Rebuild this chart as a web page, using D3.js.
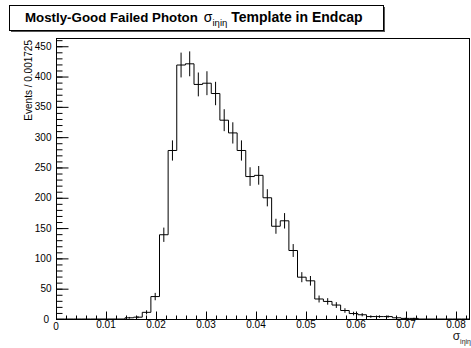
<!DOCTYPE html>
<html>
<head>
<meta charset="utf-8">
<script src="https://cdn.jsdelivr.net/npm/d3@7"></script>
<style>
  html, body { margin: 0; padding: 0; background: #fff; }
  svg { display: block; font-family: "Liberation Sans", Arial, Helvetica, sans-serif; }
</style>
</head>
<body>
<div id="chart"></div>
<script>
// Histogramm: sigma_ieta_ieta, 48 Bins zu je 0.001725
const binWidth = 0.001725;
const binCounts = [
    0, 0, 0, 0, 0, 0, 0, 0, 2, 3,
    11, 37, 139, 278, 419, 421, 387, 389, 372, 328,
    307, 278, 235, 237, 200, 153, 162, 113, 69, 63,
    33, 29, 23, 14, 9, 7, 4, 4, 4, 2,
    1, 1, 0, 0, 0, 0, 0, 0
];
const xTicks = [0, 0.01, 0.02, 0.03, 0.04, 0.05, 0.06, 0.07, 0.08];
const yTicks = [0, 50, 100, 150, 200, 250, 300, 350, 400, 450];

const width = 471, height = 348;
const frame = { left: 56, right: 470, top: 38, bottom: 319 };

const svg = d3.select("#chart").append("svg")
    .attr("width", width)
    .attr("height", height);

const xMax = binWidth * binCounts.length;
const peak = d3.max(binCounts);
const yMax = (peak + Math.sqrt(peak)) * 1.05;

const x = d3.scaleLinear().domain([0, xMax]).range([frame.left, frame.right]);
const y = d3.scaleLinear().domain([0, yMax]).range([frame.bottom, frame.top]);

// Rahmen
svg.append("rect")
    .attr("x", frame.left + 0.5)
    .attr("y", frame.top + 0.5)
    .attr("width", frame.right - frame.left - 1)
    .attr("height", frame.bottom - frame.top)
    .attr("fill", "none")
    .attr("stroke", "#000");

// X-Achse: Haupt- und Nebenstriche nach innen
const xAxis = d3.axisTop(x)
    .tickValues(d3.range(0, xMax + 1e-9, 0.002))
    .tickSize(4)
    .tickFormat("");
svg.append("g").attr("transform", `translate(0,${frame.bottom + 0.5})`).call(xAxis)
    .call(g => g.select(".domain").remove());
svg.append("g").attr("transform", `translate(0,${frame.bottom + 0.5})`)
    .call(d3.axisTop(x).tickValues(xTicks).tickSize(8).tickFormat(""))
    .call(g => g.select(".domain").remove());

svg.append("g")
    .selectAll("text")
    .data(xTicks)
    .join("text")
    .attr("x", d => x(d))
    .attr("y", d => d === 0 ? 330 : 328)
    .attr("text-anchor", "middle")
    .attr("font-size", 10)
    .text(d => d === 0 ? "0" : d3.format(".2f")(d));

// Y-Achse
svg.append("g").attr("transform", `translate(${frame.left + 0.5},0)`)
    .call(d3.axisRight(y).tickValues(d3.range(0, yMax, 10)).tickSize(6).tickFormat(""))
    .call(g => g.select(".domain").remove());
svg.append("g").attr("transform", `translate(${frame.left + 0.5},0)`)
    .call(d3.axisRight(y).tickValues(yTicks).tickSize(12).tickFormat(""))
    .call(g => g.select(".domain").remove());
svg.selectAll("g.tick line").attr("stroke", "#000");

svg.append("g")
    .selectAll("text")
    .data(yTicks)
    .join("text")
    .attr("x", d => d === 0 ? 49 : 51.5)
    .attr("y", d => y(d) + 3.5)
    .attr("text-anchor", "end")
    .attr("font-size", 10)
    .text(d => d);

// Achsentitel
svg.append("text")
    .attr("transform", `translate(32,${frame.top + 2}) rotate(-90)`)
    .attr("text-anchor", "end")
    .attr("font-size", 10)
    .text("Events / 0.001725");

const xTitle = svg.append("text")
    .attr("x", 471)
    .attr("y", 340)
    .attr("text-anchor", "end")
    .attr("font-size", 12)
    .attr("fill", "#222");
xTitle.append("tspan").text("σ");
xTitle.append("tspan").attr("dy", 4).attr("font-size", 7).text("iηiη");

// Histogramm als Stufenlinie
const steps = [[0, 0]];
binCounts.forEach((v, i) => {
    steps.push([i * binWidth, v]);
    steps.push([(i + 1) * binWidth, v]);
});
steps.push([xMax, 0]);

svg.append("path")
    .datum(steps)
    .attr("fill", "none")
    .attr("stroke", "#000")
    .attr("stroke-width", 1)
    .attr("d", d3.line().x(d => x(d[0])).y(d => y(d[1])));

// Fehlerbalken (Poisson)
svg.append("g")
    .selectAll("line")
    .data(binCounts.map((v, i) => ({ v, i })).filter(d => d.v > 0))
    .join("line")
    .attr("x1", d => x((d.i + 0.5) * binWidth))
    .attr("x2", d => x((d.i + 0.5) * binWidth))
    .attr("y1", d => y(d.v - Math.sqrt(d.v)))
    .attr("y2", d => y(d.v + Math.sqrt(d.v)))
    .attr("stroke", "#000")
    .attr("stroke-width", 1);

// Titelbox mit Schatten
const box = { x: 9, y: 5, w: 374, h: 25 };
svg.append("rect")
    .attr("x", box.x + 2).attr("y", box.y + 2)
    .attr("width", box.w).attr("height", box.h)
    .attr("fill", "#555");
svg.append("rect")
    .attr("x", box.x + 0.5).attr("y", box.y + 0.5)
    .attr("width", box.w).attr("height", box.h)
    .attr("fill", "#fff")
    .attr("stroke", "#000");

const title = svg.append("text")
    .attr("x", 25)
    .attr("y", 21.5)
    .attr("font-size", 13.3)
    .attr("font-weight", "bold");
title.append("tspan").text("Mostly-Good Failed Photon");
title.append("tspan").attr("dx", 6).attr("font-weight", "normal").attr("font-size", 14).text("σ");
title.append("tspan").attr("dy", 4).attr("font-size", 9.5).attr("font-weight", "normal").text("iηiη");
title.append("tspan").attr("dy", -4).attr("dx", 4).attr("font-size", 14).text("Template in Endcap");
</script>
</body>
</html>
